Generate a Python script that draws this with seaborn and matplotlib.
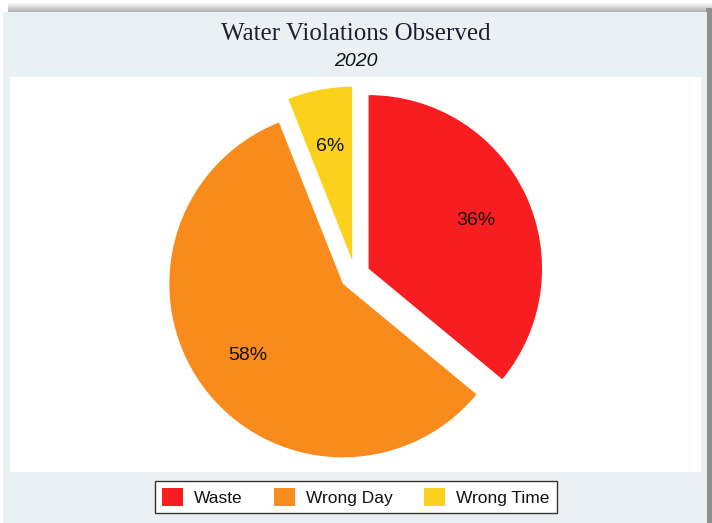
import matplotlib
matplotlib.use("Agg")
import matplotlib.pyplot as plt
from matplotlib.patches import Rectangle, Patch
import seaborn as sns

# Share of observed water violations, 2020 (percent)
categories = ["Waste", "Wrong Day", "Wrong Time"]
shares = [36, 58, 6]
colors = ["#F81D21", "#F98B1D", "#FBD11C"]

title = "Water Violations Observed"
subtitle = "2020"

sns.set_theme(style="white")
plt.rcParams["font.family"] = ["Liberation Sans", "DejaVu Sans"]
palette = sns.color_palette(colors)

W, H = 712, 523
fig = plt.figure(figsize=(W / 100, H / 100), dpi=100)
fig.patch.set_facecolor("white")


def box(x0, y0, x1, y1, **kw):
    """Background rectangle given in pixels measured from the top-left corner."""
    fig.patches.append(Rectangle((x0 / W, 1 - y1 / H), (x1 - x0) / W, (y1 - y0) / H,
                                 transform=fig.transFigure, linewidth=0, zorder=-5, **kw))


# drop shadow behind the graph region
for i in range(9):
    box(8, 3 + i, W, 4 + i, facecolor="#8a8a8a", alpha=0.08 + 0.07 * i)
box(706, 8, W, H, facecolor="#8f8f8f")

# graph region and plot region
box(3, 12, 707, H, facecolor="#E9F1F4")
box(10, 77, 701, 472, facecolor="white")

ax = fig.add_axes([0, 0, 1, 1])
ax.set_facecolor("none")
wedges, texts, pcts = ax.pie(
    shares, colors=palette, startangle=90, counterclock=False,
    center=(355, H - 275), radius=173.5, explode=[15] * len(shares),
    autopct=lambda p: f"{p:.0f}%", pctdistance=0.68,
    textprops=dict(fontsize=14, color="#111111"),
    wedgeprops=dict(linewidth=0), frame=True)
for t in pcts:
    t.set_verticalalignment("center_baseline")
ax.set_xlim(0, W)
ax.set_ylim(0, H)
ax.set_axis_off()

fig.text(356 / W, 1 - 34 / H, title, ha="center", va="center",
         fontfamily="Liberation Serif", fontsize=18, color="#1B2130")
fig.text(356 / W, 1 - 61 / H, subtitle, ha="center", va="center",
         fontstyle="italic", fontsize=14, color="#111111")

handles = [Patch(facecolor=c, edgecolor="none") for c in palette]
leg = fig.legend(handles, categories, loc="center", bbox_to_anchor=(356 / W, 1 - 497 / H),
                 ncol=3, frameon=True, fancybox=False, edgecolor="#333333",
                 facecolor="white", framealpha=1, fontsize=12.5,
                 handlelength=1.2, handleheight=1.2, handletextpad=0.65,
                 columnspacing=1.8, borderpad=0.4)
leg.get_frame().set_linewidth(1.0)
for t in leg.get_texts():
    t.set_color("#111111")

fig.savefig("out.png", dpi=100)
